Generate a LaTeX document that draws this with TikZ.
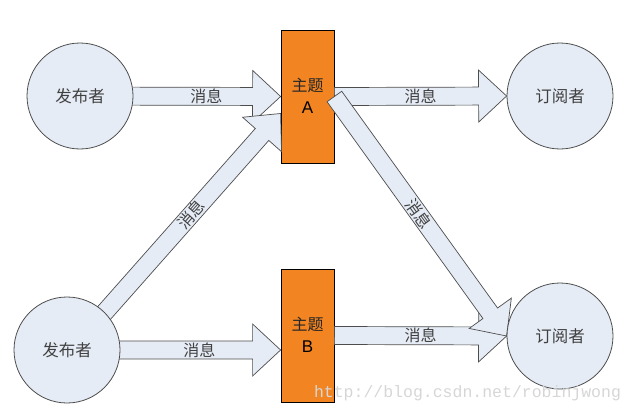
\documentclass[tikz,border=0pt]{standalone}
\usepackage{fontspec}
\setmainfont{Liberation Sans}
\newfontfamily\cjk{Noto Sans CJK SC}
\newfontfamily\wmfont{Liberation Mono}
\usetikzlibrary{calc}
\pgfdeclarelayer{fg}
\pgfsetlayers{main,fg}
\definecolor{lightfill}{HTML}{E6ECF6}
\definecolor{topicorange}{HTML}{F28522}
\definecolor{edgegray}{HTML}{4D4D4D}
\definecolor{txtgray}{HTML}{404040}
\definecolor{wmgray}{HTML}{D6D6D6}
\tikzset{
  barrow/.style={draw=edgegray, fill=lightfill, line width=0.7pt, line join=miter},
  actor/.style={circle, draw=edgegray, fill=lightfill, line width=0.8pt, minimum size=106pt, inner sep=0pt,
    font=\cjk\fontsize{16.5}{16.5}\selectfont, text=txtgray},
  topic/.style={rectangle, draw=black, fill=topicorange, line width=0.8pt, minimum width=53pt, minimum height=133pt, inner sep=0pt},
  topictxt/.style={inner sep=0pt, font=\cjk\fontsize{16}{16}\selectfont, text=black!85},
  topicletter/.style={inner sep=0pt, font=\fontsize{17}{17}\selectfont, text=black},
  msg/.style={inner sep=0pt, font=\cjk\fontsize{16}{16}\selectfont, text=txtgray},
  watermark/.style={inner sep=0pt, font=\wmfont\fontsize{16.5}{16.5}\selectfont, text=wmgray}
}
\newcommand\blockarr[2]{%
  \coordinate (hb) at ($(#2)!28pt!(#1)$);
  \draw[barrow] ($(#1)!9pt!90:(#2)$) -- ($(hb)!9pt!90:(#2)$) -- ($(hb)!26pt!90:(#2)$) -- (#2)
    -- ($(hb)!26pt!-90:(#2)$) -- ($(hb)!9pt!-90:(#2)$) -- ($(#1)!9pt!-90:(#2)$) -- cycle;}
\begin{document}
\begin{tikzpicture}[x=1pt,y=-1pt]
\useasboundingbox (0,0) rectangle (634,412);
% actors (on foreground layer)
\begin{pgfonlayer}{fg}
\node[actor] (pub1) at (80,96) {发布者};
\node[actor] (pub2) at (67,350) {发布者};
\node[actor] (sub1) at (560,96) {订阅者};
\node[actor] (sub2) at (560,336) {订阅者};
\end{pgfonlayer}
% topics
\node[topic] (A) at (307.5,96.5) {};
\node[topic] (B) at (307.5,335.5) {};
\node[topictxt] (Atxt) at ($(A.center)+(0,-11)$) {主题};
\node[topicletter] (Alet) at ($(A.center)+(0,11)$) {A};
\node[topictxt] (Btxt) at ($(B.center)+(0,-11)$) {主题};
\node[topicletter] (Blet) at ($(B.center)+(0,11)$) {B};
% helper coordinates
\coordinate (d1t) at ($(A.west)+(0,17)$);
\coordinate (d1s) at ($(pub2.45)!-10pt!(d1t)$);
\coordinate (p2b) at (pub2.center -| B.west);
% arrows
\blockarr{pub1.center}{A.west}
\blockarr{pub2.center}{p2b}
\blockarr{d1s}{d1t}
\blockarr{A.east}{sub1.west}
\blockarr{B.east}{sub2.west}
\blockarr{A.east}{sub2.west}
% labels
\path (pub1.center) -- (A.west) node[msg, pos=0.63] (m1) {消息};
\path (A.east) -- (sub1.west) node[msg, pos=0.5] (m2) {消息};
\path (pub2.center) -- (p2b) node[msg, pos=0.62] (m3) {消息};
\path (B.east) -- (sub2.west) node[msg, pos=0.5] (m4) {消息};
\path (d1s) -- (d1t) node[msg, pos=0.51, sloped] (m5) {消息};
\path (A.east) -- (sub2.west) node[msg, pos=0.49, sloped] (m6) {消息};
\begin{pgfonlayer}{fg}
\node[watermark] (wm) at (467.5,393) {http://blog.csdn.net/robinjwong};
\end{pgfonlayer}
\end{tikzpicture}
\end{document}
